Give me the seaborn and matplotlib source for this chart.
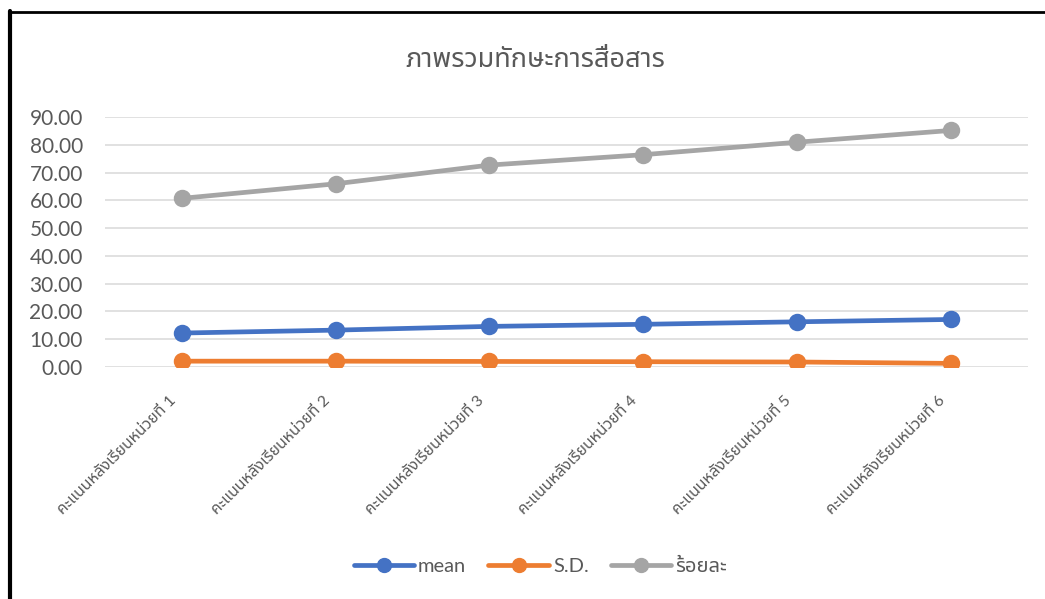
import pandas as pd
import seaborn as sns
import matplotlib.pyplot as plt
import matplotlib.font_manager as fm
import matplotlib.transforms as mtransforms
from matplotlib.ft2font import FT2Font
from matplotlib.lines import Line2D

units = [f"คะแนนหลังเรียนหน่วยที่ {i}" for i in range(1, 7)]
mean_vals = [12.15, 13.20, 14.55, 15.30, 16.20, 17.05]
sd_vals = [2.00, 2.00, 1.90, 1.80, 1.70, 1.20]
pct_vals = [60.75, 66.00, 72.75, 76.50, 81.00, 85.25]
series_names = ["mean", "S.D.", "ร้อยละ"]
colors = ["#4472C4", "#ED7D31", "#A5A5A5"]
y_ticks = [0, 10, 20, 30, 40, 50, 60, 70, 80, 90]
title = "ภาพรวมทักษะการสื่อสาร"


def find_thai_font():
    preferred = ["Noto Sans Thai", "Noto Sans Thai Looped", "Leelawadee UI", "Tahoma",
                 "Loma", "Garuda", "Norasi", "Kinnari", "Sawasdee", "Umpush", "Waree",
                 "Tlwg Typo", "Laksaman", "FreeSans"]
    found = []
    for f in fm.fontManager.ttflist:
        try:
            if 0x0E01 in FT2Font(f.fname).get_charmap():
                found.append(f.name)
        except Exception:
            pass
    for name in preferred:
        if name in found:
            return name
    return found[0] if found else "DejaVu Sans"


def main():
    df = pd.DataFrame({
        "unit": units * 3,
        "value": mean_vals + sd_vals + pct_vals,
        "series": [s for s in series_names for _ in units],
    })

    sns.set_style("white")
    thai = find_thai_font()
    fams = ["Lato", thai, "DejaVu Sans"]
    plt.rcParams["font.family"] = fams

    fig = plt.figure(figsize=(10.45, 5.99), dpi=100, facecolor="white")
    ax = fig.add_axes([0.1005, 0.3878, 0.883, 0.4164])

    sns.pointplot(data=df, x="unit", y="value", hue="series", order=units,
                  hue_order=series_names, palette=colors, markers="o",
                  linestyles="-", errorbar=None, markersize=10, linewidth=3.4,
                  ax=ax)

    ax.set_ylim(0, 90)
    ax.set_xlim(-0.5, len(units) - 0.5)
    ax.set_yticks(y_ticks)
    ax.set_yticklabels([f"{v:.2f}" for v in y_ticks])
    ax.yaxis.grid(True, color="#D9D9D9", linewidth=1.1)
    ax.xaxis.grid(False)
    ax.set_axisbelow(True)
    for s in ax.spines.values():
        s.set_visible(False)
    ax.set_xlabel("")
    ax.set_ylabel("")
    ax.tick_params(axis="y", length=0, labelsize=15, labelcolor="#595959", pad=16)
    ax.tick_params(axis="x", length=0, labelsize=11.4, labelcolor="#595959", pad=19)
    shift = mtransforms.ScaledTranslation(-0.13, 0, fig.dpi_scale_trans)
    for lab in ax.get_xticklabels():
        lab.set_rotation(45)
        lab.set_ha("right")
        lab.set_va("top")
        lab.set_rotation_mode("anchor")
        lab.set_transform(lab.get_transform() + shift)

    if ax.get_legend() is not None:
        ax.get_legend().remove()
    leg_handles = [Line2D([0], [0], color=c, linewidth=3.4, marker="o", markersize=10)
                   for c in colors]
    fig.legend(leg_handles, series_names, loc="center", bbox_to_anchor=(0.517, 0.055),
               ncol=3, frameon=False, fontsize=14.5, handlelength=3.0,
               columnspacing=1.1, handletextpad=0.2, labelcolor="#595959")

    fig.text(0.512, 0.90, title, ha="center", va="center", fontsize=19.5, color="#595959")

    # black frame around the chart (left and top edges visible)
    fig.add_artist(Line2D([0.0096, 0.0096], [0, 0.982], color="black", linewidth=3,
                          transform=fig.transFigure))
    fig.add_artist(Line2D([0.0096, 1.0], [0.980, 0.980], color="black", linewidth=2,
                          transform=fig.transFigure))

    fig.savefig("out.png", dpi=100, facecolor="white")
    plt.close(fig)


if __name__ == "__main__":
    main()
